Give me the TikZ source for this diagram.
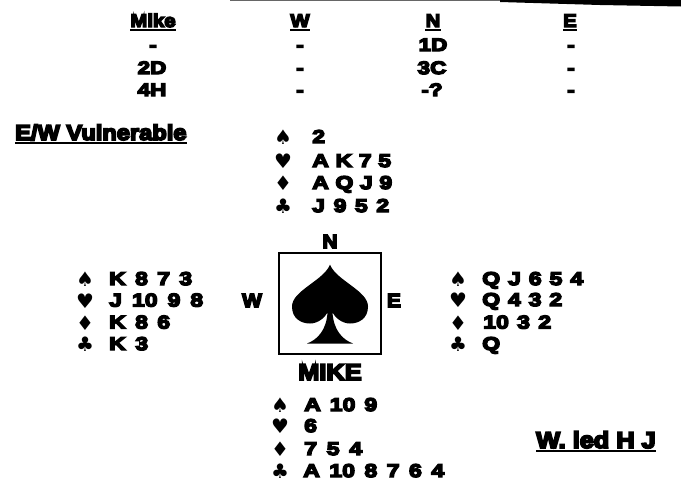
\documentclass[tikz,border=0pt]{standalone}
\usepackage{fontspec}
\newfontfamily\hf[FakeStretch=1.1,FakeBold=8]{Liberation Sans}
\newfontfamily\cf[FakeStretch=1.25,FakeBold=8]{Liberation Sans}
\newfontfamily\suitfont{DejaVu Sans}
\newcommand{\spread}[2]{\makebox[#1pt][s]{#2}}
\tikzset{
  txt/.style={inner sep=0pt, anchor=base, font=\hf\bfseries\fontsize{#1}{#1}\selectfont},
  bid/.style={inner sep=0pt, anchor=base, font=\cf\bfseries\fontsize{18}{18}\selectfont},
  card/.style={inner sep=0pt, anchor=base west, font=\cf\bfseries\fontsize{18.5}{20}\selectfont},
  suit/.style={inner sep=0pt, anchor=base, font=\suitfont\fontsize{20}{22}\selectfont},
  uline/.style={line width=1.8pt},
}
\begin{document}
\begin{tikzpicture}[x=1pt,y=-1pt]
\useasboundingbox (0,0) rectangle (681,482);
% scan bar at top
\fill[black!60] (230,0) rectangle (540,1.2);
\fill (500,0) -- (681,0) -- (681,6.5) -- (600,5) -- (500,2) -- cycle;
% bidding header
\node[txt=18.5] (hMike) at (153,27) {Mike};
\node[txt=18.5] (hW) at (300,27) {W};
\node[txt=18.5] (hN) at (433,27) {N};
\node[txt=18.5] (hE) at (570,27) {E};
\foreach \n in {hMike,hW,hN,hE}
  \draw[uline] ([yshift=-2.5pt]\n.south west) -- ([yshift=-2.5pt]\n.south east);
% bidding rows
\node[bid] (b11) at (153,51) {-};
\node[bid] (b12) at (300,51) {-};
\node[bid] (b13) at (433,51) {1D};
\node[bid] (b14) at (571,51) {-};
\node[bid] (b21) at (152,74) {2D};
\node[bid] (b22) at (300,74) {-};
\node[bid] (b23) at (432,74) {3C};
\node[bid] (b24) at (571,74) {-};
\node[bid] (b31) at (152,96) {4H};
\node[bid] (b32) at (300,96) {-};
\node[bid] (b33) at (432,96) {-?};
\node[bid] (b34) at (571,96) {-};
% vulnerability
\node[txt=21.5, anchor=base west] (vul) at (15,140) {E/W Vulnerable};
\draw[uline] ([yshift=-2.5pt]vul.south west) -- ([yshift=-2.5pt]vul.south east);
% lead
\node[txt=23, anchor=base west] (lead) at (536,448) {W. led H J};
\draw[uline] ([yshift=-2.5pt]lead.south west) -- ([yshift=-2.5pt]lead.south east);
% North hand
\node[suit] (ns) at (283,144.5) {♠}; \node[card] (nst) at (312,143) {2};
\node[suit] (nh) at (283,168.5) {♥}; \node[card] (nht) at (312,167) {\spread{79}{A K 7 5}};
\node[suit] (nd) at (283,190.5) {♦}; \node[card] (ndt) at (312,189) {\spread{80}{A Q J 9}};
\node[suit] (nc) at (283,213.5) {♣}; \node[card] (nct) at (312,212) {\spread{77}{J 9 5 2}};
% West hand
\node[suit] (ws) at (85,286.5) {♠}; \node[card] (wst) at (109,285) {\spread{83}{K 8 7 3}};
\node[suit] (wh) at (85,308) {♥}; \node[card] (wht) at (109,306.5) {\spread{94}{J 10 9 8}};
\node[suit] (wd) at (85,330) {♦}; \node[card] (wdt) at (109,328.5) {\spread{61}{K 8 6}};
\node[suit] (wc) at (85,351.5) {♣}; \node[card] (wct) at (109,350) {\spread{39}{K 3}};
% East hand
\node[suit] (es) at (458,286.5) {♠}; \node[card] (est) at (482,285) {\spread{101}{Q J 6 5 4}};
\node[suit] (eh) at (458,307.5) {♥}; \node[card] (eht) at (482,306) {\spread{80}{Q 4 3 2}};
\node[suit] (ed) at (458,330) {♦}; \node[card] (edt) at (483,328.5) {\spread{68}{10 3 2}};
\node[suit] (ec) at (458,351.5) {♣}; \node[card] (ect) at (482,350) {Q};
% South hand
\node[suit] (ss) at (280,412.5) {♠}; \node[card] (sst) at (304,411) {\spread{73}{A 10 9}};
\node[suit] (sh) at (280,433.5) {♥}; \node[card] (sht) at (304,432) {6};
\node[suit] (sd) at (280,456.5) {♦}; \node[card] (sdt) at (304,455) {\spread{58}{7 5 4}};
\node[suit] (sc) at (280,478.5) {♣}; \node[card] (sct) at (303,477) {\spread{141}{A 10 8 7 6 4}};
% table box
\node[draw, line width=2pt, minimum width=102pt, minimum height=101pt, inner sep=0pt] (box) at (330,303.5) {};
\node[txt=19] (lN) at (330,248) {N};
\node[txt=19] (lW) at (252,307) {W};
\node[txt=19] (lE) at (394,307) {E};
\node[txt=23] (lS) at (330,380) {MIKE};
% big spade
\begin{scope}[shift={(box.center)}]
\fill (0,-39) .. controls (6,-23) and (38,-13) .. (38,3)
  .. controls (38,15) and (29,20) .. (20,20)
  .. controls (12,20) and (5,14) .. (2.5,9)
  .. controls (3.5,26) and (12,36) .. (23,40)
  -- (-23,40)
  .. controls (-12,36) and (-3.5,26) .. (-2.5,9)
  .. controls (-5,14) and (-12,20) .. (-20,20)
  .. controls (-29,20) and (-38,15) .. (-38,3)
  .. controls (-38,-13) and (-6,-23) .. (0,-39) -- cycle;
\end{scope}
\end{tikzpicture}
\end{document}
